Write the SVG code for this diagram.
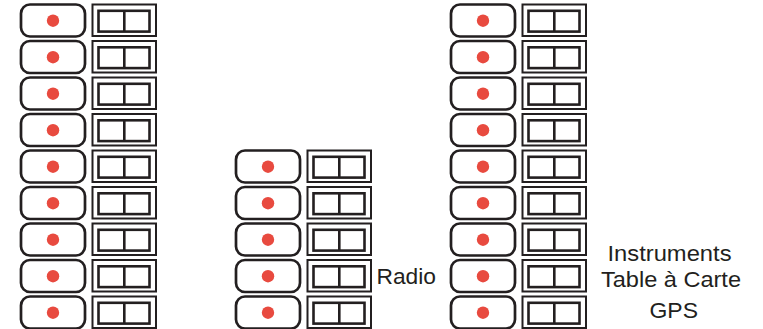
<svg xmlns="http://www.w3.org/2000/svg" width="763" height="329" viewBox="0 0 763 329">
<defs>
<style>
.sw{fill:#fff;stroke:#231f20;stroke-width:2.7}
.dot{fill:#e84a3f}
.box{fill:#fff;stroke:#231f20;stroke-width:2}
.inner{fill:none;stroke:#231f20;stroke-width:2.6}
.lbl{font-family:"Liberation Sans",Arial,sans-serif;font-size:22px;fill:#231f20}
</style>
<g id="unit">
<rect class="sw" x="21" y="4.5" width="64" height="32" rx="9"/>
<circle class="dot" cx="53" cy="20.7" r="6.2"/>
<rect class="box" x="92.5" y="4.5" width="63.5" height="31.5"/>
<rect class="inner" x="98.5" y="10.8" width="51" height="20.8"/>
<line class="inner" x1="124.3" y1="10.8" x2="124.3" y2="31.6"/>
</g>
</defs>
<g id="left-column">
<use href="#unit"/>
<use href="#unit" y="36.5"/>
<use href="#unit" y="73"/>
<use href="#unit" y="109.5"/>
<use href="#unit" y="146"/>
<use href="#unit" y="182.5"/>
<use href="#unit" y="219"/>
<use href="#unit" y="255.5"/>
<use href="#unit" y="292"/>
</g>
<g id="middle-column">
<use href="#unit" x="215" y="146"/>
<use href="#unit" x="215" y="182.5"/>
<use href="#unit" x="215" y="219"/>
<use href="#unit" x="215" y="255.5"/>
<use href="#unit" x="215" y="292"/>
</g>
<g id="right-column">
<use href="#unit" x="430"/>
<use href="#unit" x="430" y="36.5"/>
<use href="#unit" x="430" y="73"/>
<use href="#unit" x="430" y="109.5"/>
<use href="#unit" x="430" y="146"/>
<use href="#unit" x="430" y="182.5"/>
<use href="#unit" x="430" y="219"/>
<use href="#unit" x="430" y="255.5"/>
<use href="#unit" x="430" y="292"/>
</g>
<g id="connectors"></g>
<g id="label-radio">
<text class="lbl" x="376.5" y="284" textLength="59.5" lengthAdjust="spacingAndGlyphs">Radio</text>
</g>
<g id="label-instruments">
<text class="lbl" x="607.5" y="260.5" textLength="124" lengthAdjust="spacingAndGlyphs">Instruments</text>
<text class="lbl" x="601" y="286.5" textLength="140" lengthAdjust="spacingAndGlyphs">Table à Carte</text>
<text class="lbl" x="649.5" y="317.5" textLength="48.5" lengthAdjust="spacingAndGlyphs">GPS</text>
</g>
</svg>
